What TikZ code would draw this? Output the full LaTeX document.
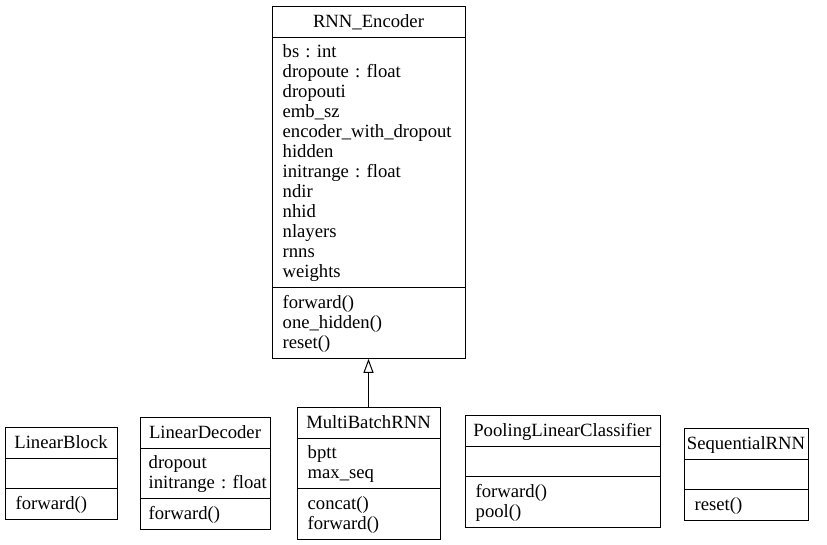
\documentclass[tikz,border=0pt]{standalone}
\usepackage{fontspec}
\setmainfont{Liberation Serif}
\usetikzlibrary{shapes.multipart,arrows.meta}

\newcommand{\umlrow}{\rule[-3.4pt]{0pt}{15pt}}
\newcommand{\umltitle}[1]{\makebox[\hsize]{\umlrow #1}}

\begin{document}
\begin{tikzpicture}[x=0.75pt,y=-0.75pt,line width=0.75pt,
                    font=\fontsize{14}{15}\selectfont\frenchspacing]
  \tikzstyle{umlclass}=[rectangle split,rectangle split parts=3,draw,anchor=north,
                        align=left,inner xsep=8pt,inner ysep=3.6pt]

  \useasboundingbox (0,0) rectangle (827,545);

  \node[umlclass,text width=128.75pt] (Encoder) at (368.5,6)
  {\umltitle{RNN\_Encoder}
   \nodepart{two}\umlrow bs : int\\ \umlrow dropoute : float\\ \umlrow dropouti\\
   \umlrow emb\_sz\\ \umlrow encoder\_with\_dropout\\ \umlrow hidden\\
   \umlrow initrange : float\\ \umlrow ndir\\ \umlrow nhid\\ \umlrow nlayers\\
   \umlrow rnns\\ \umlrow weights
   \nodepart{three}\umlrow forward()\\ \umlrow one\_hidden()\\ \umlrow reset()};

  \node[umlclass,text width=68pt] (LinearBlock) at (61,427)
  {\umltitle{LinearBlock}
   \nodepart{two}\umlrow
   \nodepart{three}\umlrow forward()};

  \node[umlclass,inner xsep=6.5pt,text width=84.5pt] (LinearDecoder) at (205,417)
  {\umltitle{LinearDecoder}
   \nodepart{two}\umlrow dropout\\ \umlrow initrange~:~float
   \nodepart{three}\umlrow forward()};

  \node[umlclass,text width=91.25pt] (MultiBatchRNN) at (368.5,407)
  {\umltitle{MultiBatchRNN}
   \nodepart{two}\umlrow bptt\\ \umlrow max\_seq
   \nodepart{three}\umlrow concat()\\ \umlrow forward()};

  \node[umlclass,text width=130.25pt] (PoolingLinearClassifier) at (562.5,415)
  {\umltitle{PoolingLinearClassifier}
   \nodepart{two}\umlrow
   \nodepart{three}\umlrow forward()\\ \umlrow pool()};

  \node[umlclass,text width=77pt] (SequentialRNN) at (746,428)
  {\umltitle{SequentialRNN}
   \nodepart{two}\umlrow
   \nodepart{three}\umlrow reset()};

  \draw[-{Triangle[open,length=10.5pt,width=7.5pt]}]
    (MultiBatchRNN.north) -- (Encoder.south);
\end{tikzpicture}
\end{document}
